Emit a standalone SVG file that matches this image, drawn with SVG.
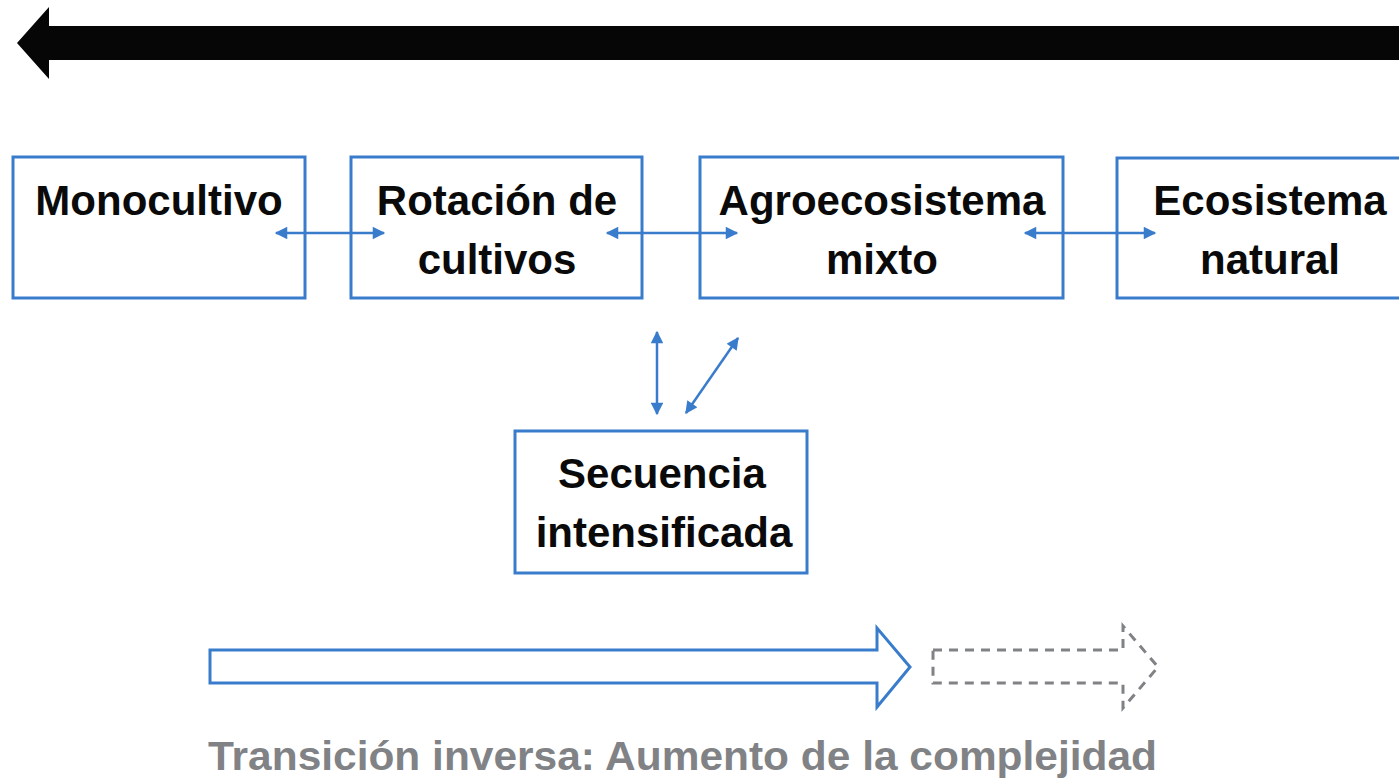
<svg xmlns="http://www.w3.org/2000/svg" width="1399" height="778" viewBox="0 0 1399 778">
<defs>
<style>
.box{fill:#fff;stroke:#3a7ccc;stroke-width:3}
.lbl{font-family:"Liberation Sans",Arial,sans-serif;font-weight:bold;font-size:42px;fill:#0a0a0a;text-anchor:middle}
.con{stroke:#3a7ccc;stroke-width:2.5;fill:none;marker-start:url(#ah);marker-end:url(#ah)}
.cap{font-family:"Liberation Sans",Arial,sans-serif;font-weight:bold;font-size:41px;fill:#808285}
</style>
<marker id="ah" viewBox="0 0 10 10" refX="9" refY="5" markerWidth="5.5" markerHeight="5" orient="auto-start-reverse" markerUnits="strokeWidth">
<path d="M0,0 L10,5 L0,10 Z" fill="#3a7ccc"/>
</marker>
</defs>
<rect width="1399" height="778" fill="#fff"/>
<g id="top-arrow">
<polygon points="17,43 49,7 49,26 1399,26 1399,60 49,60 49,79" fill="#060606"/>
</g>
<g id="monocultivo">
<rect class="box" x="13" y="157" width="292" height="141"/>
<text class="lbl" x="159" y="215">Monocultivo</text>
</g>
<g id="rotacion">
<rect class="box" x="351" y="157" width="291" height="141"/>
<text class="lbl" x="497" y="215">Rotación de</text>
<text class="lbl" x="497" y="274">cultivos</text>
</g>
<g id="agroecosistema">
<rect class="box" x="700" y="157" width="363" height="141"/>
<text class="lbl" x="882" y="215">Agroecosistema</text>
<text class="lbl" x="882" y="274">mixto</text>
</g>
<g id="ecosistema">
<rect class="box" x="1117" y="158" width="300" height="140"/>
<text class="lbl" x="1270" y="215">Ecosistema</text>
<text class="lbl" x="1270" y="274">natural</text>
</g>
<g id="secuencia">
<rect class="box" x="515" y="431" width="292" height="142"/>
<text class="lbl" x="662" y="488">Secuencia</text>
<text class="lbl" x="664" y="547">intensificada</text>
</g>
<g id="connectors">
<line class="con" x1="276" y1="233" x2="384" y2="233"/>
<line class="con" x1="607" y1="233" x2="737" y2="233"/>
<line class="con" x1="1025" y1="233" x2="1155" y2="233"/>
<line class="con" x1="657" y1="332" x2="657" y2="414"/>
<line class="con" x1="686" y1="413" x2="738" y2="338"/>
</g>
<g id="transition-arrow">
<polygon points="210,650 877,650 877,628 910,667 877,707 877,683 210,683" fill="none" stroke="#3a7ccc" stroke-width="3"/>
</g>
<g id="dashed-arrow">
<polygon points="933,650 1123,650 1123,626 1158,667 1123,708 1123,683 933,683" fill="none" stroke="#808285" stroke-width="3" stroke-dasharray="9,7"/>
</g>
<text class="cap" x="208" y="770" textLength="949" lengthAdjust="spacingAndGlyphs">Transición inversa: Aumento de la complejidad</text>
</svg>
